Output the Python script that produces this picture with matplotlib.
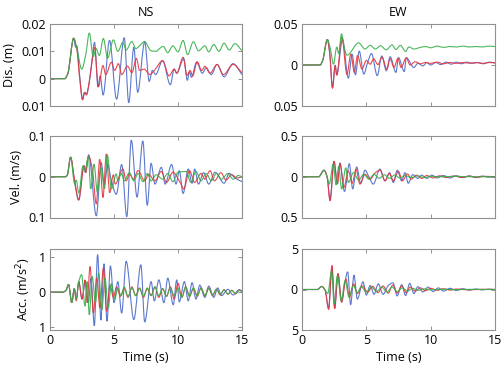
import matplotlib
matplotlib.use("Agg")
import matplotlib.pyplot as plt
from matplotlib.path import Path
from matplotlib.patches import PathPatch

plt.rcParams['font.family'] = ['Open Sans', 'DejaVu Sans']

# ---------------- data ----------------
# NS displacement (x0.01 m)
ns_dis_g_t = [0, 1.15, 1.4, 1.85, 2.1, 2.48, 2.8, 3.07, 3.38, 3.6, 3.85, 4.17, 4.5, 4.95, 5.3, 5.7, 5.95, 6.4, 6.7, 7.1, 7.38, 7.9, 8.3, 8.5, 8.85, 9.2, 9.6, 10.0, 10.4, 10.75, 11.2, 11.6, 12.1, 12.4, 12.8, 13.2, 13.6, 14.0, 14.45, 15.0]
ns_dis_g_v = [0, 0, 0.2, 1.48, 1.1, 0.35, 0.9, 1.67, 0.8, 1.1, 0.85, 1.47, 0.75, 1.42, 1.0, 1.33, 1.05, 1.36, 1.1, 1.25, 1.36, 1.02, 1.0, 1.08, 1.18, 0.95, 1.2, 0.98, 1.4, 0.88, 1.35, 1.02, 1.2, 0.98, 1.25, 1.0, 1.3, 1.05, 1.28, 1.02]
ns_dis_r_t = [0, 1.15, 1.4, 1.85, 2.1, 2.3, 2.55, 2.7, 2.85, 3.05, 3.25, 3.48, 3.78, 4.14, 4.35, 4.8, 5.05, 5.35, 5.6, 6.05, 6.4, 6.75, 7.0, 7.35, 7.8, 8.2, 8.8, 9.3, 9.7, 9.9, 10.4, 10.7, 10.95, 11.15, 11.5, 11.85, 12.1, 12.5, 13.05, 13.55, 14.3, 15.0]
ns_dis_r_v = [0, 0, 0.2, 1.48, 1.05, 0.1, -0.78, -0.5, -0.6, -0.15, 0.5, 1.15, -0.3, 0.48, 0.15, 0.6, 0.3, 0.55, 0.15, 0.46, 0.22, 0.74, 0.3, 0.35, 0.15, 0.33, 0.66, 0.1, 0.35, 0.2, 0.78, 0.12, 0.3, 0.1, 0.62, 0.3, 0.45, 0.2, 0.52, 0.15, 0.52, 0.22]
ns_dis_b_t = [0, 1.15, 1.4, 1.85, 2.0, 2.1, 2.3, 2.55, 2.7, 2.85, 3.05, 3.25, 3.48, 3.75, 3.92, 4.15, 4.65, 5.2, 5.8, 6.15, 6.55, 6.85, 7.4, 7.75, 8.0, 8.25, 8.8, 9.4, 9.7, 9.9, 10.45, 10.73, 10.9, 11.05, 11.45, 11.9, 12.2, 12.6, 13.05, 13.6, 14.3, 15.0]
ns_dis_b_v = [0, 0, 0.2, 1.48, 1.15, 1.2, 0.2, -0.75, -0.5, -0.55, -0.2, 0.55, 1.33, -0.3, 0.1, -0.6, 1.4, -0.75, 1.5, -0.88, 1.15, -0.5, 1.35, -0.1, 0.3, 0.15, 0.66, -0.22, 0.35, 0.2, 0.73, -0.06, 0.25, 0.05, 0.6, 0.2, 0.4, 0.15, 0.52, 0.07, 0.55, 0.15]

# EW displacement (x0.01 m)
ew_dis_g_t = [0, 1.4, 1.6, 1.97, 2.2, 2.45, 2.7, 2.85, 3.07, 3.3, 3.5, 4.4, 4.9, 5.3, 5.7, 6.1, 6.55, 7.0, 7.3, 7.65, 8.05, 8.3, 8.7, 9.2, 9.6, 10.0, 10.5, 11.0, 11.5, 12.0, 12.5, 13.0, 13.5, 14.0, 14.5, 15.0]
ew_dis_g_v = [0, 0, 0.5, 3.1, 2.0, 0.1, 2.2, 1.4, 3.8, 2.0, 1.2, 2.7, 1.95, 2.4, 1.95, 2.35, 1.85, 2.45, 1.9, 2.4, 1.65, 2.2, 1.95, 2.15, 2.25, 2.1, 2.3, 2.15, 2.25, 2.2, 2.3, 2.2, 2.25, 2.2, 2.3, 2.25]
ew_dis_r_t = [0, 1.4, 1.6, 1.97, 2.15, 2.37, 2.58, 2.7, 3.1, 3.49, 3.8, 4.06, 4.32, 4.66, 5.0, 5.3, 5.57, 5.9, 6.22, 6.6, 6.85, 7.15, 7.45, 7.7, 8.1, 8.4, 8.8, 9.2, 9.6, 10.0, 10.5, 11.0, 11.5, 12.0, 12.5, 13.0, 13.5, 14.0, 14.5, 15.0]
ew_dis_r_v = [0, 0, 0.5, 3.1, 1.5, -2.85, -0.1, -1.25, 3.4, -1.15, 1.35, -0.9, 1.15, -0.5, 0.55, 0.1, 0.75, 0.05, 0.95, -0.5, 0.75, -0.3, 0.8, -0.3, 0.85, 0.0, 0.4, 0.15, 0.3, 0.2, 0.35, 0.15, 0.3, 0.2, 0.3, 0.22, 0.3, 0.2, 0.3, 0.25]
ew_dis_b_t = [0, 1.4, 1.6, 1.97, 2.15, 2.37, 2.58, 2.7, 3.15, 3.6, 3.9, 4.15, 4.45, 4.8, 5.1, 5.4, 5.85, 6.2, 6.55, 6.85, 7.3, 7.5, 7.95, 8.1, 8.7, 9.0, 9.4, 9.7, 10.0, 10.4, 10.8, 11.2, 11.6, 12.0, 12.4, 12.8, 13.2, 13.7, 14.1, 14.6, 15.0]
ew_dis_b_v = [0, 0, 0.5, 3.1, 1.5, -2.7, 0.0, -1.2, 3.1, -1.6, 1.3, -1.2, 1.7, -1.1, 0.3, 1.4, -1.3, 1.1, -0.7, 1.0, -0.9, 0.9, -0.8, 0.9, -0.3, 0.2, -0.1, 0.3, 0.0, 0.3, 0.05, 0.35, 0.1, 0.35, 0.15, 0.35, 0.2, 0.3, 0.15, 0.35, 0.25]

# NS velocity (m/s)
ns_vel_g_t = [0, 1.2, 1.35, 1.61, 1.93, 2.05, 2.25, 2.58, 2.72, 3.0, 3.18, 3.44, 3.7, 4.0, 4.25, 4.48, 4.8, 5.18, 5.3, 5.58, 5.8, 6.2, 6.55, 6.88, 7.27, 7.6, 7.9, 8.3, 8.8, 9.2, 9.6, 10.0, 10.65, 11.0, 11.4, 11.8, 12.2, 12.6, 13.0, 13.4, 13.9, 14.3, 14.7, 15.0]
ns_vel_g_v = [0, 0, 0.004, 0.048, -0.018, -0.008, -0.04, 0.027, 0.015, 0.049, -0.03, 0.031, -0.038, 0.023, -0.03, 0.054, -0.03, 0.007, -0.01, 0.008, -0.01, 0.01, -0.01, 0.008, -0.012, 0.008, -0.01, 0.005, -0.006, 0.008, -0.012, 0.011, 0.013, -0.014, 0.013, -0.01, 0.008, -0.01, 0.008, -0.006, 0.008, -0.006, 0.003, 0.0]
ns_vel_r_t = [0, 1.2, 1.35, 1.61, 1.93, 2.24, 2.66, 2.78, 3.02, 3.3, 3.62, 3.88, 4.14, 4.4, 4.66, 4.95, 5.1, 5.7, 5.95, 6.22, 6.5, 6.88, 7.4, 7.7, 8.2, 8.7, 9.1, 9.6, 10.2, 10.45, 10.9, 11.3, 11.8, 12.1, 12.5, 12.85, 13.35, 13.75, 14.2, 14.6, 15.0]
ns_vel_r_v = [0, 0, 0.004, 0.048, -0.01, -0.057, 0.027, 0.01, 0.05, 0.02, -0.067, 0.043, -0.051, 0.056, -0.039, 0.005, -0.018, 0.019, -0.01, 0.007, -0.006, 0.015, -0.01, 0.006, -0.01, 0.013, -0.014, 0.011, -0.016, -0.03, 0.015, -0.014, 0.008, -0.006, 0.015, -0.01, 0.01, -0.008, 0.005, -0.003, 0.0]
ns_vel_b_t = [0, 1.2, 1.35, 1.61, 1.93, 2.24, 2.66, 2.78, 3.02, 3.62, 4.0, 4.25, 4.5, 4.8, 5.18, 5.6, 6.0, 6.35, 6.8, 7.25, 7.6, 7.9, 8.2, 8.7, 9.0, 9.5, 9.85, 10.1, 10.4, 10.8, 11.1, 11.3, 11.6, 12.0, 12.4, 12.9, 13.6, 14.0, 14.5, 15.0]
ns_vel_b_v = [0, 0, 0.004, 0.048, -0.015, -0.057, 0.027, 0.01, 0.054, -0.096, 0.035, -0.02, 0.03, -0.01, -0.043, 0.03, -0.098, 0.09, -0.05, 0.088, -0.07, 0.033, -0.018, 0.023, -0.018, 0.03, -0.018, 0.015, -0.041, 0.019, -0.016, 0.019, -0.018, 0.01, -0.018, 0.011, -0.016, 0.008, -0.004, -0.012]

# EW velocity (m/s)
ew_vel_g_t = [0, 1.3, 1.71, 1.95, 2.12, 2.43, 2.65, 2.85, 3.08, 3.4, 3.6, 4.0, 4.4, 4.8, 5.2, 5.6, 6.0, 6.4, 6.8, 7.2, 7.6, 8.0, 8.5, 9.0, 9.5, 10.0, 11.0, 12.0, 13.0, 14.0, 15.0]
ew_vel_g_v = [0, 0, 0.08, 0.0, -0.09, 0.16, -0.1, 0.13, -0.15, 0.11, -0.07, 0.05, -0.04, 0.03, -0.03, 0.03, -0.02, 0.025, -0.02, 0.02, -0.015, 0.015, -0.01, 0.01, -0.01, 0.005, 0.0, 0.005, 0.0, 0.0, 0.0]
ew_vel_r_t = [0, 1.3, 1.71, 1.95, 2.18, 2.49, 2.75, 2.95, 3.26, 3.6, 3.9, 4.2, 4.5, 4.9, 5.3, 5.7, 6.06, 6.45, 6.8, 7.1, 7.5, 7.8, 8.2, 8.5, 8.9, 9.3, 9.7, 10.2, 10.7, 11.2, 11.8, 12.4, 13.0, 13.6, 14.2, 15.0]
ew_vel_r_v = [0, 0, 0.08, 0.0, -0.295, 0.19, -0.09, 0.16, -0.13, 0.07, -0.08, 0.09, -0.09, 0.03, -0.03, 0.05, 0.08, -0.05, 0.04, -0.05, 0.065, -0.05, 0.035, -0.03, 0.02, -0.02, 0.015, -0.015, 0.012, -0.01, 0.01, -0.01, 0.008, -0.006, 0.005, 0.0]
ew_vel_b_t = [0, 1.3, 1.71, 1.95, 2.18, 2.49, 2.75, 2.95, 3.3, 3.68, 3.94, 4.25, 4.56, 4.9, 5.2, 5.54, 6.06, 6.45, 6.8, 7.1, 7.4, 7.75, 8.0, 8.26, 8.6, 9.0, 9.3, 9.7, 10.1, 10.5, 11.0, 11.5, 12.0, 12.5, 13.0, 13.5, 14.0, 14.5, 15.0]
ew_vel_b_v = [0, 0, 0.08, 0.0, -0.28, 0.19, -0.08, 0.17, -0.18, 0.16, -0.15, 0.12, -0.08, 0.08, 0.0, -0.09, 0.094, -0.05, 0.05, -0.07, 0.08, -0.05, 0.05, -0.08, 0.025, -0.02, 0.02, -0.02, 0.02, -0.015, 0.015, -0.015, 0.012, -0.01, 0.01, -0.01, 0.008, -0.005, 0.0]

# NS acceleration (m/s2)
ns_acc_g_t = [0, 1.0, 1.25, 1.45, 1.7, 1.9, 2.05, 2.25, 2.47, 2.73, 2.9, 3.07, 3.3, 3.55, 3.8, 4.05, 4.3, 4.55, 4.8, 5.05, 5.3, 5.55, 5.8, 6.1, 6.4, 6.7, 7.0, 7.3, 7.6, 7.9, 8.2, 8.5, 8.8, 9.1, 9.4, 9.7, 10.0, 10.3, 10.6, 10.9, 11.2, 11.5, 11.8, 12.1, 12.4, 12.7, 13.0, 13.3, 13.6, 13.9, 14.2, 14.5, 14.8, 15.0]
ns_acc_g_v = [0, 0, 0.05, 0.22, -0.3, 0.1, -0.2, 0.3, 0.5, -0.4, 0.3, -0.65, 0.45, -0.3, 0.55, -0.5, 0.4, -0.45, 0.25, -0.2, 0.1, -0.1, 0.15, -0.12, 0.12, -0.1, 0.1, -0.12, 0.12, -0.1, 0.15, -0.1, 0.1, -0.12, 0.12, -0.1, 0.1, -0.15, 0.15, -0.12, 0.12, -0.1, 0.12, -0.1, 0.1, -0.08, 0.08, -0.06, 0.06, -0.05, 0.05, -0.04, 0.05, 0.02]
ns_acc_r_t = [0, 1.0, 1.25, 1.45, 1.7, 1.9, 2.05, 2.25, 2.5, 2.75, 2.9, 3.13, 3.39, 3.65, 3.9, 4.17, 4.43, 4.7, 4.95, 5.2, 5.5, 5.8, 6.1, 6.4, 6.7, 7.0, 7.3, 7.6, 7.9, 8.2, 8.5, 8.8, 9.1, 9.4, 9.7, 10.0, 10.3, 10.6, 10.9, 11.2, 11.5, 11.8, 12.1, 12.4, 12.7, 13.0, 13.3, 13.6, 13.9, 14.2, 14.5, 14.8, 15.0]
ns_acc_r_v = [0, 0, 0.05, 0.22, -0.3, 0.1, -0.25, 0.3, -0.2, 0.35, -0.3, 0.73, -0.6, 0.4, -0.45, 0.69, -0.55, 0.2, -0.15, 0.15, -0.12, 0.1, -0.15, 0.15, -0.1, 0.12, -0.15, 0.1, -0.1, 0.15, -0.15, 0.1, -0.12, 0.15, -0.2, 0.25, -0.15, 0.15, -0.12, 0.1, -0.12, 0.12, -0.1, 0.12, -0.1, 0.08, -0.08, 0.07, -0.06, 0.05, -0.05, 0.06, 0.03]
ns_acc_b_t = [0, 1.0, 1.25, 1.45, 1.7, 1.9, 2.05, 2.25, 2.5, 2.75, 3.0, 3.2, 3.46, 3.72, 3.98, 4.22, 4.45, 4.72, 5.0, 5.3, 5.6, 5.95, 6.55, 7.1, 7.4, 7.9, 8.15, 8.5, 8.9, 9.2, 9.63, 9.9, 10.1, 10.5, 10.8, 11.1, 11.4, 11.7, 12.1, 12.4, 12.8, 13.1, 13.4, 13.9, 14.3, 14.8, 15.0]
ns_acc_b_v = [0, 0, 0.05, 0.22, -0.3, 0.1, -0.2, 0.3, -0.2, 0.3, -0.3, 0.4, -0.96, 1.07, -0.8, 0.81, -0.83, 0.75, -0.3, 0.3, -0.6, 0.88, -0.78, 0.78, -0.85, 0.3, -0.25, 0.35, -0.3, 0.4, -0.36, 0.35, -0.28, 0.3, -0.25, 0.27, -0.2, 0.2, -0.15, 0.17, -0.15, 0.12, -0.1, 0.08, -0.08, 0.07, 0.0]

# EW acceleration (m/s2)
ew_acc_g_t = [0, 1.2, 1.53, 1.8, 2.0, 2.3, 2.5, 2.75, 3.05, 3.35, 3.65, 4.0, 4.3, 4.6, 5.0, 5.4, 5.8, 6.2, 6.6, 7.0, 7.4, 7.8, 8.2, 8.6, 9.0, 9.5, 10.0, 11.0, 12.0, 13.0, 14.0, 15.0]
ew_acc_g_v = [0, 0, 0.38, -0.1, -0.5, 2.3, -1.8, 1.75, -1.4, 1.1, -0.9, 0.5, -0.4, 0.35, -0.3, 0.3, -0.25, 0.3, -0.3, 0.3, -0.25, 0.2, -0.2, 0.15, -0.1, 0.08, -0.05, 0.04, -0.03, 0.02, 0.0, 0.0]
ew_acc_r_t = [0, 1.2, 1.53, 1.8, 2.07, 2.33, 2.54, 2.8, 3.08, 3.42, 3.68, 4.0, 4.3, 4.7, 5.1, 5.5, 5.9, 6.3, 6.7, 7.05, 7.4, 7.75, 8.1, 8.4, 8.8, 9.2, 9.6, 10.0, 10.5, 11.0, 11.5, 12.0, 13.0, 14.0, 15.0]
ew_acc_r_v = [0, 0, 0.38, -0.1, -2.5, 3.0, -2.4, 2.0, -1.6, 1.3, -1.0, 0.7, -0.5, 0.45, -0.35, 0.4, -0.4, 0.45, -0.45, 0.55, -0.45, 0.45, -0.4, 0.3, -0.2, 0.2, -0.15, 0.15, -0.1, 0.1, -0.08, 0.06, -0.04, 0.03, 0.0]
ew_acc_b_t = [0, 1.2, 1.53, 1.8, 2.07, 2.33, 2.54, 2.8, 3.08, 3.3, 3.55, 3.78, 4.04, 4.3, 4.74, 5.0, 5.3, 5.6, 5.93, 6.3, 6.7, 7.07, 7.4, 7.75, 8.05, 8.37, 8.7, 9.0, 9.4, 9.8, 10.2, 10.6, 11.0, 11.5, 12.0, 12.5, 13.0, 13.5, 14.0, 14.5, 15.0]
ew_acc_b_v = [0, 0, 0.38, -0.1, -2.3, 2.7, -2.3, 1.9, -1.5, 0.6, 2.2, -1.9, 1.8, -1.2, 0.96, -0.7, 0.5, -0.6, 0.7, -0.6, 0.5, 0.83, -0.8, 0.6, -0.75, 0.75, -0.5, 0.35, -0.3, 0.3, -0.25, 0.2, -0.2, 0.15, -0.12, 0.1, -0.08, 0.06, -0.05, 0.04, 0.0]

col_titles = ["NS", "EW"]
row_labels = ["Dis. (m)", "Vel. (m/s)", "Acc. (m/s$^2$)"]
xticks = [0, 5, 10, 15]

panels = [
    (0, 0, [(ns_dis_b_t, ns_dis_b_v), (ns_dis_r_t, ns_dis_r_v), (ns_dis_g_t, ns_dis_g_v)], 0.01,
     (-0.01, 0.02), [-0.01, 0, 0.01, 0.02], ["0.01", "0", "0.01", "0.02"]),
    (0, 1, [(ew_dis_b_t, ew_dis_b_v), (ew_dis_r_t, ew_dis_r_v), (ew_dis_g_t, ew_dis_g_v)], 0.01,
     (-0.05, 0.05), [-0.05, 0, 0.05], ["0.05", "0", "0.05"]),
    (1, 0, [(ns_vel_b_t, ns_vel_b_v), (ns_vel_r_t, ns_vel_r_v), (ns_vel_g_t, ns_vel_g_v)], 1.0,
     (-0.1, 0.1), [-0.1, 0, 0.1], ["0.1", "0", "0.1"]),
    (1, 1, [(ew_vel_b_t, ew_vel_b_v), (ew_vel_r_t, ew_vel_r_v), (ew_vel_g_t, ew_vel_g_v)], 1.0,
     (-0.5, 0.5), [-0.5, 0, 0.5], ["0.5", "0", "0.5"]),
    (2, 0, [(ns_acc_b_t, ns_acc_b_v), (ns_acc_r_t, ns_acc_r_v), (ns_acc_g_t, ns_acc_g_v)], 1.0,
     (-1.08, 1.23), [-1, 0, 1], ["1", "0", "1"]),
    (2, 1, [(ew_acc_b_t, ew_acc_b_v), (ew_acc_r_t, ew_acc_r_v), (ew_acc_g_t, ew_acc_g_v)], 1.0,
     (-5.05, 5.05), [-5, 0, 5], ["5", "0", "5"]),
]

colors = ["#4a6ac8", "#e8343c", "#35b04a"]


def smooth_path(t, v):
    """Smooth (monotone cubic Bezier) path through the read points."""
    n = len(t)
    slopes = [(v[i + 1] - v[i]) / (t[i + 1] - t[i]) for i in range(n - 1)]
    m = [0.0] * n
    m[0] = slopes[0]
    m[-1] = slopes[-1]
    for i in range(1, n - 1):
        a, b = slopes[i - 1], slopes[i]
        if a * b <= 0:
            m[i] = 0.0
        else:
            m[i] = 2 * a * b / (a + b)
    verts = [(t[0], v[0])]
    codes = [Path.MOVETO]
    for i in range(n - 1):
        h = t[i + 1] - t[i]
        verts += [(t[i] + h / 3, v[i] + m[i] * h / 3),
                  (t[i + 1] - h / 3, v[i + 1] - m[i + 1] * h / 3),
                  (t[i + 1], v[i + 1])]
        codes += [Path.CURVE4] * 3
    return Path(verts, codes)


W, H = 503, 369
fig = plt.figure(figsize=(W / 100, H / 100), dpi=100)

col_x = [(50, 242), (302, 495)]
row_y = [(24, 106), (136, 217.5), (249, 330)]

for (r, c, series, scale, ylim, yt, ytl) in panels:
    x0, x1 = col_x[c]
    y0, y1 = row_y[r]
    ax = fig.add_axes([x0 / W, 1 - y1 / H, (x1 - x0) / W, (y1 - y0) / H])
    for (t, v), col in zip(series, colors):
        vv = [val * scale for val in v]
        ax.add_patch(PathPatch(smooth_path(t, vv), facecolor='none', edgecolor=col,
                               lw=0.8, alpha=0.9))
    ax.set_xlim(0, 15)
    ax.set_ylim(*ylim)
    ax.set_xticks(xticks)
    ax.set_yticks(yt)
    ax.set_yticklabels(ytl)
    ax.tick_params(direction='in', length=3, width=0.6, color='#808080',
                   top=True, right=True, labelsize=9, pad=3)
    for s in ax.spines.values():
        s.set_color('#909090')
        s.set_linewidth(0.8)
    if r == 2:
        ax.set_xticklabels([str(x) for x in xticks])
        ax.set_xlabel("Time (s)", fontsize=9, labelpad=3)
    else:
        ax.set_xticklabels([])
    if r == 0:
        ax.set_title(col_titles[c], fontsize=9, pad=6)
    if c == 0:
        ax.set_ylabel(row_labels[r], fontsize=9, labelpad=4)

fig.savefig("out.png", dpi=100)
